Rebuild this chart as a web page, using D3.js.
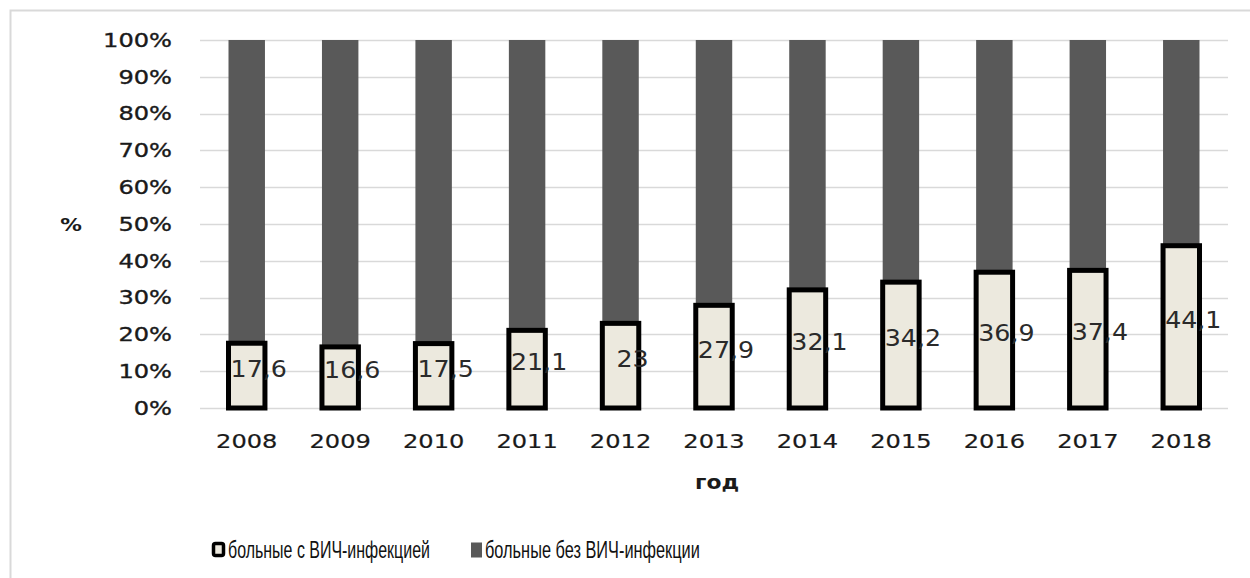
<!DOCTYPE html>
<html>
<head>
<meta charset="utf-8">
<script src="https://cdn.jsdelivr.net/npm/d3@7"></script>
<style>
  body { margin: 0; background: #fff; }
  svg { display: block; }
</style>
</head>
<body>
<div id="graphic"></div>
<script>
// data
const years = ['2008', '2009', '2010', '2011', '2012', '2013', '2014', '2015', '2016', '2017', '2018'];
const hivShare = [17.6, 16.6, 17.5, 21.1, 23, 27.9, 32.1, 34.2, 36.9, 37.4, 44.1];
const yTicks = [0, 10, 20, 30, 40, 50, 60, 70, 80, 90, 100];
const seriesNames = ['больные с ВИЧ-инфекцией', 'больные без ВИЧ-инфекции'];

const width = 1250, height = 578;
const margin = { top: 40, right: 22, bottom: 170, left: 200 };
const stretch = 1.27; // text in the source is stretched sideways

const svg = d3.select('#graphic').append('svg')
  .attr('width', width)
  .attr('height', height);

// outer frame
svg.append('rect')
  .attr('x', 10.5).attr('y', 10.5)
  .attr('width', width + 20).attr('height', height + 20)
  .attr('fill', 'none')
  .attr('stroke', '#d9d9d9')
  .attr('stroke-width', 2);

const x = d3.scaleBand()
  .domain(years)
  .range([margin.left, width - margin.right])
  .padding(0);

const y = d3.scaleLinear()
  .domain([0, 100])
  .range([height - margin.bottom, margin.top]);

const barW = x.bandwidth() * 0.39;

// grid
svg.append('g')
  .selectAll('line')
  .data(yTicks)
  .join('line')
  .attr('x1', margin.left)
  .attr('x2', width - margin.right)
  .attr('y1', d => Math.round(y(d)) + 0.5)
  .attr('y2', d => Math.round(y(d)) + 0.5)
  .attr('stroke', '#d9d9d9')
  .attr('stroke-width', 1.5);

// y tick labels
svg.append('g')
  .selectAll('text')
  .data(yTicks)
  .join('text')
  .attr('transform', d => `translate(172,${y(d)}) scale(${stretch},1)`)
  .attr('text-anchor', 'end')
  .attr('dy', '0.36em')
  .attr('font-family', 'DejaVu Sans')
  .attr('font-size', 19)
  .attr('fill', '#1a1a1a')
  .attr('stroke', '#1a1a1a')
  .attr('stroke-width', 0.35)
  .text(d => d + '%');

// grey bars (rest up to 100%)
svg.append('g')
  .selectAll('rect')
  .data(years)
  .join('rect')
  .attr('x', d => x(d) + x.bandwidth() / 2 - barW / 2)
  .attr('width', barW)
  .attr('y', y(100))
  .attr('height', (d, i) => y(hivShare[i]) - y(100))
  .attr('fill', '#595959');

// pale bars with thick black outline
svg.append('g')
  .selectAll('rect')
  .data(years)
  .join('rect')
  .attr('x', d => x(d) + x.bandwidth() / 2 - barW / 2)
  .attr('width', barW)
  .attr('y', (d, i) => y(hivShare[i]))
  .attr('height', (d, i) => y(0) - y(hivShare[i]))
  .attr('fill', '#ece9de')
  .attr('stroke', '#000')
  .attr('stroke-width', 5);

// value labels
svg.append('g')
  .selectAll('text')
  .data(years)
  .join('text')
  .attr('transform', (d, i) => `translate(${x(d) + x.bandwidth() / 2 + 12},${y(hivShare[i] / 2 + 2)}) scale(1.1,1)`)
  .attr('text-anchor', 'middle')
  .attr('dy', '0.36em')
  .attr('font-family', 'DejaVu Sans')
  .attr('font-size', 23)
  .attr('fill', '#2a2a2a')
  .text((d, i) => String(hivShare[i]).replace('.', ','));

// x tick labels
svg.append('g')
  .selectAll('text')
  .data(years)
  .join('text')
  .attr('transform', d => `translate(${x(d) + x.bandwidth() / 2},${y(0) + 40}) scale(${stretch},1)`)
  .attr('text-anchor', 'middle')
  .attr('font-family', 'DejaVu Sans')
  .attr('font-size', 19)
  .attr('fill', '#1a1a1a')
  .attr('stroke', '#1a1a1a')
  .attr('stroke-width', 0.2)
  .text(d => d);

// axis titles
svg.append('text')
  .attr('transform', `translate(71,${y(50) + 7}) scale(1.2,1)`)
  .attr('text-anchor', 'middle')
  .attr('font-family', 'DejaVu Sans')
  .attr('font-weight', 'bold')
  .attr('font-size', 18)
  .attr('fill', '#1a1a1a')
  .text('%');

svg.append('text')
  .attr('transform', `translate(717,489) scale(1.15,1)`)
  .attr('text-anchor', 'middle')
  .attr('font-family', 'DejaVu Sans')
  .attr('font-weight', 'bold')
  .attr('font-size', 19)
  .attr('fill', '#1a1a1a')
  .text('год');

// legend
const legendX = [212, 471];
const legendTextW = [202, 215];
const legend = svg.append('g')
  .selectAll('g')
  .data(seriesNames)
  .join('g')
  .attr('transform', (d, i) => `translate(${legendX[i]},550)`);

legend.append('rect')
  .attr('x', (d, i) => i === 0 ? 1.5 : 0)
  .attr('y', (d, i) => i === 0 ? -6.5 : -7.5)
  .attr('width', (d, i) => i === 0 ? 10 : 11)
  .attr('height', (d, i) => i === 0 ? 12 : 15)
  .attr('rx', (d, i) => i === 0 ? 2 : 0)
  .attr('fill', (d, i) => i === 0 ? '#ece9de' : '#595959')
  .attr('stroke', (d, i) => i === 0 ? '#000' : 'none')
  .attr('stroke-width', 3.5);

// condensed look: squeeze each label to the width it has in the source
legend.append('text')
  .attr('dy', '0.35em')
  .attr('font-family', 'Liberation Sans')
  .attr('font-size', 24)
  .attr('fill', '#111')
  .text(d => d)
  .each(function (d, i) {
    const natural = this.getComputedTextLength();
    const k = legendTextW[i] / natural;
    d3.select(this).attr('transform', `translate(${i === 0 ? 16 : 14},0) scale(${k},1)`);
  });
</script>
</body>
</html>
